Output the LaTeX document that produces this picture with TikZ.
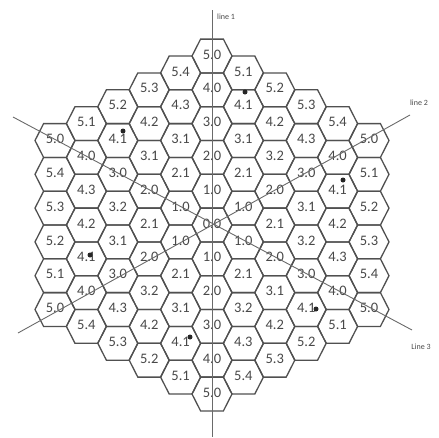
\documentclass[tikz,border=0pt]{standalone}
\usepackage{fontspec}
\setmainfont{Carlito}
\usetikzlibrary{calc}
\definecolor{hexgray}{HTML}{505050}
\definecolor{textgray}{HTML}{484848}
\tikzset{
  gridHex/.style={draw=hexgray, line width=1.3pt, line join=miter},
  gridLabel/.style={font=\fontsize{14.5}{14.5}\selectfont, text=textgray, inner sep=1pt},
  gridLine/.style={draw=hexgray!85, line width=0.9pt},
  gridLineLabel/.style={font=\fontsize{8}{8}\selectfont, text=textgray, inner sep=1pt},
  gridDot/.style={circle, fill=black!85, inner sep=0pt, minimum size=5pt}
}

\begin{document}
\begin{tikzpicture}[x=1pt, y=-1pt]
      \useasboundingbox (0,0) rectangle (439,437);
      % hexagon cells, column by column from left to right
      \foreach \col/\labs [count=\k] in {
          -5/{5.0,5.4,5.3,5.2,5.1,5.0},
          -4/{5.1,4.0,4.3,4.2,4.1,4.0,5.4},
          -3/{5.2,4.1,3.0,3.2,3.1,3.0,4.3,5.3},
          -2/{5.3,4.2,3.1,2.0,2.1,2.0,3.2,4.2,5.2},
          -1/{5.4,4.3,3.1,2.1,1.0,1.0,2.1,3.1,4.1,5.1},
          0/{5.0,4.0,3.0,2.0,1.0,0.0,1.0,2.0,3.0,4.0,5.0},
          1/{5.1,4.1,3.1,2.1,1.0,1.0,2.1,3.2,4.3,5.4},
          2/{5.2,4.2,3.2,2.0,2.1,2.0,3.1,4.2,5.3},
          3/{5.3,4.3,3.0,3.1,3.2,3.0,4.1,5.2},
          4/{5.4,4.0,4.1,4.2,4.3,4.0,5.1},
          5/{5.0,5.1,5.2,5.3,5.4,5.0}}{
        \pgfmathsetmacro\cx{212+31.4*\col}
        \pgfmathsetmacro\ytop{225-(10-abs(\col))*16.9}
        \foreach \lab [count=\i from 0] in \labs {
          \pgfmathsetmacro\cy{\ytop+33.8*\i}
          \draw[gridHex] (\cx-20,\cy) -- (\cx-11.4,\cy-16.9) -- (\cx+11.4,\cy-16.9)
            -- (\cx+20,\cy) -- (\cx+11.4,\cy+16.9) -- (\cx-11.4,\cy+16.9) -- cycle;
          \node[gridLabel] (h\k-\i) at (\cx,\cy-1.5) {\lab};
        }
      }
      % the three lines through the centre
      \coordinate (l1a) at (212,10);
      \coordinate (l1b) at (212,437);
      \coordinate (l2a) at (18,333);
      \coordinate (l2b) at (410,115);
      \coordinate (l3a) at (13,117);
      \coordinate (l3b) at (412,330);
      \draw[gridLine] (l1a) -- (l1b);
      \draw[gridLine] (l2a) -- (l2b);
      \draw[gridLine] (l3a) -- (l3b);
      \node[gridLineLabel, anchor=west] (lab1) at (216,17) {line 1};
      \node[gridLineLabel] (lab2) at (419,103) {line 2};
      \node[gridLineLabel] (lab3) at (421,347) {Line 3};
      % marked cells
      \node[gridDot] (dotA) at (245,92) {};
      \node[gridDot] (dotB) at (123,131) {};
      \node[gridDot] (dotC) at (343,180) {};
      \node[gridDot] (dotD) at (316,309) {};
      \node[gridDot] (dotE) at (190,337) {};
      \node[gridDot] (dotF) at (90,255) {};
    \end{tikzpicture}
\end{document}
